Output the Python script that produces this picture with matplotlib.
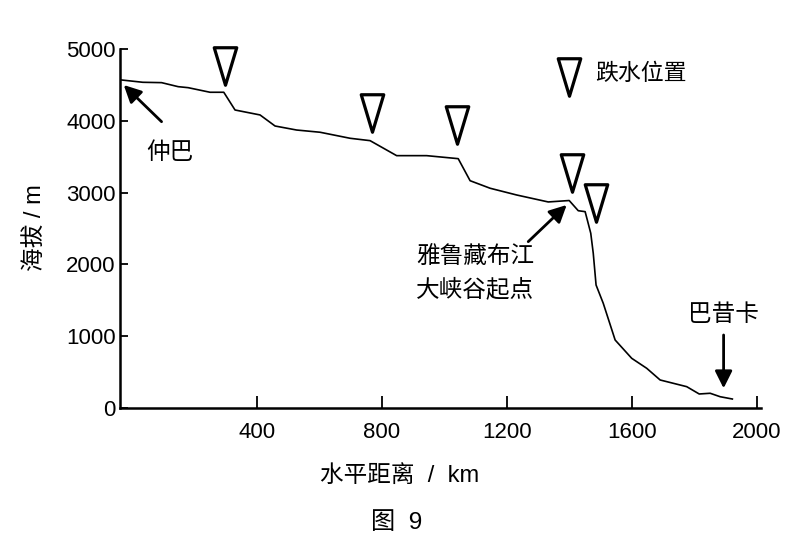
import matplotlib.pyplot as plt
from matplotlib.path import Path

plt.rcParams['font.family'] = ['Liberation Sans', 'Noto Sans CJK SC']

# river profile: horizontal distance (km) vs elevation (m)
dist = [-33, 35, 95, 148, 180, 250, 294, 330, 410, 458, 527, 602, 698, 762,
        847, 943, 1044, 1082, 1146, 1231, 1332, 1399, 1428, 1450, 1457, 1468,
        1476, 1485, 1508, 1546, 1599, 1647, 1690, 1775, 1815, 1850, 1882, 1921]
elev = [4569, 4537, 4532, 4476, 4462, 4398, 4398, 4151, 4082, 3928, 3872, 3841,
        3757, 3724, 3515, 3515, 3473, 3166, 3061, 2967, 2870, 2890, 2748, 2735,
        2619, 2434, 2155, 1713, 1458, 947, 692, 553, 390, 297, 195, 205, 157, 125]

# knickpoint (waterfall) markers
fall_x = [298, 768, 1040, 1408, 1485]
fall_y = [4764, 4114, 3942, 3278, 2856]

xticks = [400, 800, 1200, 1600, 2000]
yticks = [0, 1000, 2000, 3000, 4000, 5000]

tri = Path([(-0.3, 0.5), (0.3, 0.5), (0, -0.5), (-0.3, 0.5)],
           [Path.MOVETO, Path.LINETO, Path.LINETO, Path.CLOSEPOLY])

fig = plt.figure(figsize=(8, 5.48), dpi=100)
ax = fig.add_axes([0.15, 0.2555, 0.801, 0.655])

ax.plot(dist, elev, color='black', lw=1.2)
ax.plot(fall_x, fall_y, ls='none', marker=tri, markersize=27, clip_on=False,
        markerfacecolor='white', markeredgecolor='black', markeredgewidth=2.3)

# legend entry
ax.plot([1398], [4615], ls='none', marker=tri, markersize=27, clip_on=False,
        markerfacecolor='white', markeredgecolor='black', markeredgewidth=2.3)
ax.text(1482, 4661, '跌水位置', fontsize=16.5, va='center', ha='left')

arrow = dict(arrowstyle='-|>', lw=2, color='black', mutation_scale=26,
             shrinkA=0, shrinkB=0)
ax.annotate('', xy=(-26, 4499), xytext=(95, 3988), arrowprops=arrow)
ax.text(122, 3552, '仲巴', fontsize=17, ha='center', va='center')

ax.annotate('', xy=(1391, 2828), xytext=(1268, 2317), arrowprops=arrow)
ax.text(1098, 1870, '雅鲁藏布江\n大峡谷起点', fontsize=17, ha='center',
        va='center', linespacing=1.6)

ax.annotate('', xy=(1893, 274), xytext=(1893, 1017), arrowprops=arrow)
ax.text(1894, 1296, '巴昔卡', fontsize=17, ha='center', va='center')

ax.set_xlim(-38, 2012)
ax.set_ylim(0, 5000)
ax.set_xticks(xticks)
ax.set_yticks(yticks)
ax.tick_params(axis='x', direction='in', length=9, width=1.3, pad=10, labelsize=16)
ax.tick_params(axis='y', direction='in', length=6, width=1.3, pad=3, labelsize=16)
for s in ['top', 'right']:
    ax.spines[s].set_visible(False)
for s in ['left', 'bottom']:
    ax.spines[s].set_linewidth(1.8)

fig.text(0.5, 1 - 476 / 548, '水平距离  /  km', fontsize=17, ha='center', va='center')
fig.text(0.044, 1 - 228 / 548, '海拔 / m', fontsize=17, ha='center', va='center',
         rotation=90)
fig.text(0.496, 1 - 523 / 548, '图  9', fontsize=17.5, ha='center', va='center')

fig.savefig('out.png', dpi=100)
